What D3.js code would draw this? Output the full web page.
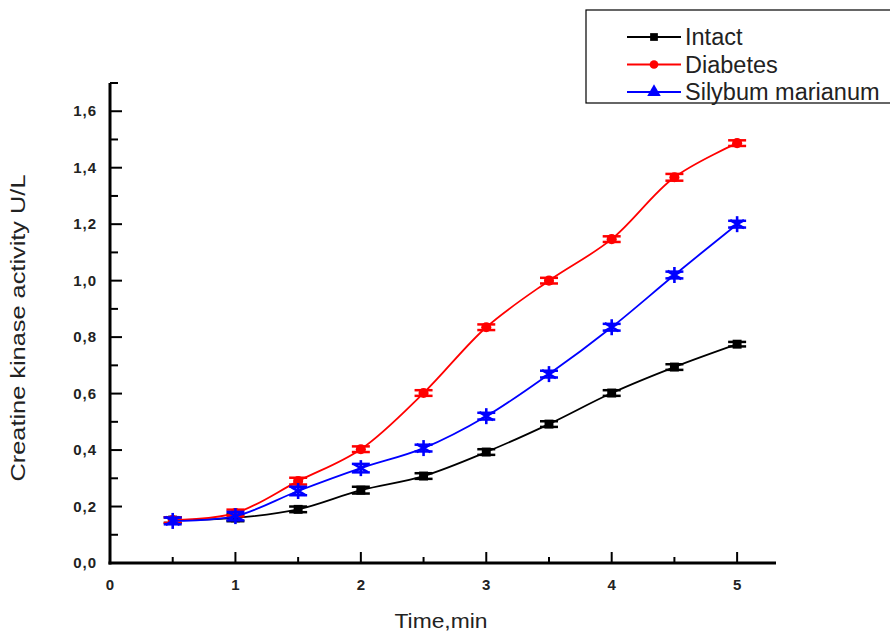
<!DOCTYPE html>
<html>
<head>
<meta charset="utf-8">
<script src="https://cdn.jsdelivr.net/npm/d3@7"></script>
<style>
  body { margin: 0; background: #fff; }
  svg { font-family: "Liberation Sans", Arial, sans-serif; }
</style>
</head>
<body>
<svg id="chart" width="890" height="633"></svg>
<script>
// time points (min)
const times = [0.5, 1, 1.5, 2, 2.5, 3, 3.5, 4, 4.5, 5];
const intact = [0.152, 0.160, 0.190, 0.258, 0.308, 0.393, 0.492, 0.602, 0.694, 0.775];
const diabetes = [0.152, 0.177, 0.290, 0.403, 0.602, 0.835, 1.000, 1.147, 1.366, 1.487];
const silybum = [0.149, 0.166, 0.255, 0.336, 0.407, 0.520, 0.669, 0.835, 1.020, 1.200];
const errIntact = [0.01, 0.012, 0.01, 0.012, 0.01, 0.01, 0.01, 0.01, 0.01, 0.008];
const errDiabetes = [0.01, 0.012, 0.012, 0.01, 0.01, 0.01, 0.01, 0.01, 0.012, 0.01];
const errSilybum = [0.012, 0.015, 0.015, 0.015, 0.012, 0.012, 0.012, 0.012, 0.012, 0.012];
const seriesNames = ["Intact", "Diabetes", "Silybum marianum"];
const xTicks = [0, 1, 2, 3, 4, 5];
const yTicks = [0, 0.2, 0.4, 0.6, 0.8, 1.0, 1.2, 1.4, 1.6];

const series = [
  { name: seriesNames[0], vals: intact, err: errIntact, color: "#000000", sym: "square" },
  { name: seriesNames[1], vals: diabetes, err: errDiabetes, color: "#ff0000", sym: "circle" },
  { name: seriesNames[2], vals: silybum, err: errSilybum, color: "#0000ff", sym: "triangle" }
];

const svg = d3.select("#chart");
const x = d3.scaleLinear().domain([0, 5.31]).range([110, 776]);
const y = d3.scaleLinear().domain([0, 1.7]).range([563, 83]);
const fmt = d => d3.format(".1f")(d).replace(".", ",");

// axis lines
svg.append("line").attr("x1", x(0)).attr("x2", x(0)).attr("y1", y(1.7)).attr("y2", y(0) + 1.5)
  .attr("stroke", "#000").attr("stroke-width", 3);
svg.append("line").attr("x1", x(0) - 1.5).attr("x2", x(5.31)).attr("y1", y(0)).attr("y2", y(0))
  .attr("stroke", "#000").attr("stroke-width", 3);

// y ticks (major + minor, inward)
const yMinor = d3.range(0.1, 1.75, 0.2);
svg.selectAll(".ytick").data(yTicks).enter().append("line")
  .attr("x1", x(0)).attr("x2", x(0) + 12).attr("y1", d => y(d)).attr("y2", d => y(d))
  .attr("stroke", "#000").attr("stroke-width", 2);
svg.selectAll(".yminor").data(yMinor).enter().append("line")
  .attr("x1", x(0)).attr("x2", x(0) + 8).attr("y1", d => y(d)).attr("y2", d => y(d))
  .attr("stroke", "#000").attr("stroke-width", 2);
svg.selectAll(".ylab").data(yTicks).enter().append("text")
  .attr("x", x(0) - 13).attr("y", d => y(d)).attr("dy", "0.35em")
  .attr("text-anchor", "end").attr("font-size", 15).attr("font-weight", "bold")
  .attr("letter-spacing", 1).attr("fill", "#222")
  .text(fmt);

// x ticks
const xMinor = d3.range(0.5, 5.1, 1);
svg.selectAll(".xtick").data(xTicks.slice(1)).enter().append("line")
  .attr("x1", d => x(d)).attr("x2", d => x(d)).attr("y1", y(0)).attr("y2", y(0) - 11)
  .attr("stroke", "#000").attr("stroke-width", 2);
svg.selectAll(".xminor").data(xMinor).enter().append("line")
  .attr("x1", d => x(d)).attr("x2", d => x(d)).attr("y1", y(0)).attr("y2", y(0) - 6)
  .attr("stroke", "#000").attr("stroke-width", 2);
svg.selectAll(".xlab").data(xTicks).enter().append("text")
  .attr("x", d => x(d)).attr("y", 590)
  .attr("text-anchor", "middle").attr("font-size", 15).attr("font-weight", "bold")
  .attr("fill", "#222")
  .text(d => d);

// axis titles
svg.append("text").attr("x", 441).attr("y", 628).attr("text-anchor", "middle")
  .attr("font-size", 21).attr("textLength", 93).attr("lengthAdjust", "spacingAndGlyphs")
  .attr("fill", "#222").text("Time,min");
svg.append("text").attr("transform", "translate(25,328) rotate(-90)")
  .attr("text-anchor", "middle").attr("font-size", 21)
  .attr("textLength", 307).attr("lengthAdjust", "spacingAndGlyphs")
  .attr("fill", "#222").text("Creatine kinase activity U/L");

// lines
const line = d3.line().x(d => x(d[0])).y(d => y(d[1])).curve(d3.curveCatmullRom.alpha(0.5));
const symType = { square: d3.symbolSquare, circle: d3.symbolCircle, triangle: d3.symbolTriangle };

series.forEach(s => {
  const pts = times.map((t, i) => [t, s.vals[i], s.err[i]]);
  svg.append("path").datum(pts).attr("d", line)
    .attr("fill", "none").attr("stroke", s.color).attr("stroke-width", 1.8);
  const g = svg.append("g");
  pts.forEach(p => {
    const cx = x(p[0]);
    g.append("line").attr("x1", cx).attr("x2", cx).attr("y1", y(p[1] + p[2])).attr("y2", y(p[1] - p[2]))
      .attr("stroke", s.color).attr("stroke-width", 2.5);
    [p[1] + p[2], p[1] - p[2]].forEach(v => {
      g.append("line").attr("x1", cx - 9).attr("x2", cx + 9).attr("y1", y(v)).attr("y2", y(v))
        .attr("stroke", s.color).attr("stroke-width", 2.5);
    });
    if (s.sym === "triangle") {
      // star-like marker
      [0, 60, 120].forEach(a => {
        g.append("line").attr("x1", cx).attr("x2", cx).attr("y1", y(p[1]) - 8).attr("y2", y(p[1]) + 8)
          .attr("transform", `rotate(${a},${cx},${y(p[1])})`)
          .attr("stroke", s.color).attr("stroke-width", 2.6);
      });
    } else {
      g.append("path").attr("d", d3.symbol().type(symType[s.sym]).size(80)())
        .attr("transform", `translate(${cx},${y(p[1])})`).attr("fill", s.color);
    }
  });
});

// legend
const lg = svg.append("g");
lg.append("rect").attr("x", 586).attr("y", 10).attr("width", 310).attr("height", 93)
  .attr("fill", "#fff").attr("stroke", "#000").attr("stroke-width", 1.2);
series.forEach((s, i) => {
  const ly = 37 + i * 27.5;
  lg.append("line").attr("x1", 627).attr("x2", 681).attr("y1", ly).attr("y2", ly)
    .attr("stroke", s.color).attr("stroke-width", 2.2);
  lg.append("path").attr("d", d3.symbol().type(symType[s.sym]).size(s.sym === "triangle" ? 80 : 60)())
    .attr("transform", `translate(654,${ly})`).attr("fill", s.color);
  lg.append("text").attr("x", 685).attr("y", ly).attr("dy", "0.36em")
    .attr("font-size", 23.5).attr("fill", "#222").text(s.name);
});
</script>
</body>
</html>
